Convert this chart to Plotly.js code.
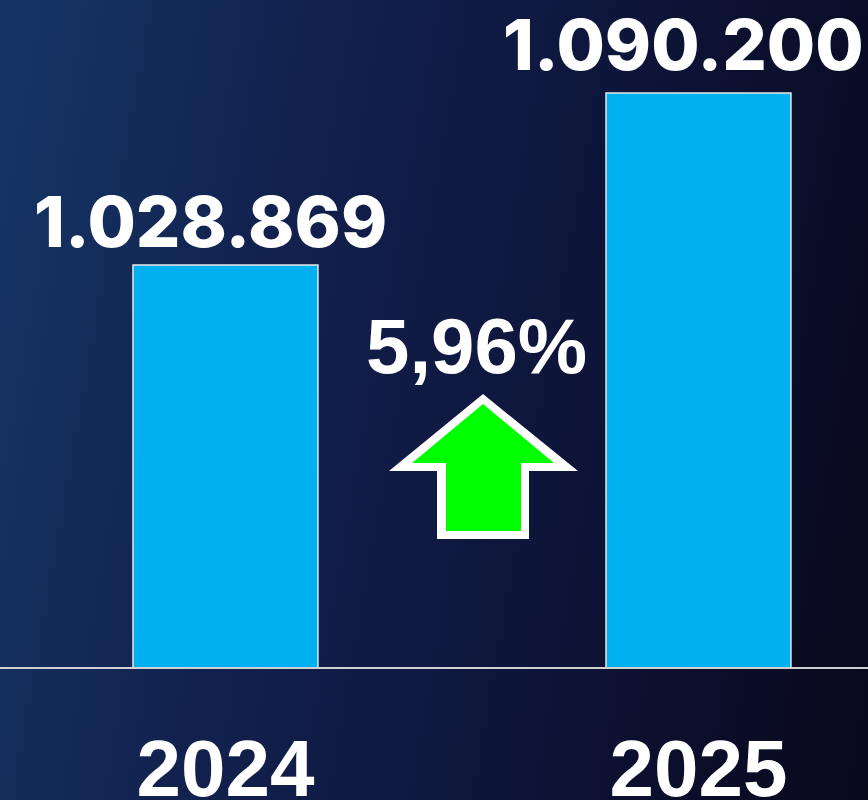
<!DOCTYPE html>
<html>
<head>
<meta charset="utf-8">
<script src="https://cdn.plot.ly/plotly-3.0.1.min.js"></script>
<style>
html,body{margin:0;padding:0;width:868px;height:800px;overflow:hidden;}
body{background:linear-gradient(100deg,#153666 0%,#12224f 30%,#0f1840 55%,#0b0d28 85%,#09091c 100%);}
#chart{width:868px;height:800px;}
</style>
</head>
<body>
<div id="chart"></div>
<script>
const years = ['2024', '2025'];
const visitors = [1028869, 1090200];
const valueLabels = ['1.028.869', '1.090.200'];
const changeLabel = '5,96%';

const yBase = 885526;
const yTop = 1123358;

const trace = {
  type: 'bar',
  x: years,
  y: visitors,
  width: 0.391,
  marker: {color: '#00b0f0', line: {color: '#e8e8e8', width: 1.5}},
  hoverinfo: 'x+y'
};

const annotations = years.map((yr, i) => ({
  x: i, y: visitors[i], xref: 'x', yref: 'y',
  text: valueLabels[i], showarrow: false,
  xanchor: 'center', yanchor: 'bottom', xshift: -15, yshift: i === 0 ? -1 : 4,
  font: {family: 'Inter, Roboto, sans-serif', size: 70, color: '#ffffff', weight: 800}
}));

const H = 667, W = 868;
const px = v => v / W, py = v => (H - v) / H;
function arrowPath(tipY, wingX1, wingX2, wingY, shaftX1, shaftX2, bottomY, tipX) {
  return 'M ' + px(tipX) + ' ' + py(tipY) +
    ' L ' + px(wingX2) + ' ' + py(wingY) +
    ' L ' + px(shaftX2) + ' ' + py(wingY) +
    ' L ' + px(shaftX2) + ' ' + py(bottomY) +
    ' L ' + px(shaftX1) + ' ' + py(bottomY) +
    ' L ' + px(shaftX1) + ' ' + py(wingY) +
    ' L ' + px(wingX1) + ' ' + py(wingY) + ' Z';
}

annotations.push({
  x: px(476.5), y: py(375), xref: 'paper', yref: 'paper',
  text: changeLabel, showarrow: false, xanchor: 'center', yanchor: 'bottom', yshift: -17,
  font: {family: 'Liberation Sans, Arial, sans-serif', size: 78, color: '#ffffff', weight: 700}
});

const layout = {
  width: 868, height: 800,
  margin: {l: 0, r: 0, t: 0, b: 133, pad: 0},
  paper_bgcolor: 'rgba(0,0,0,0)',
  plot_bgcolor: 'rgba(0,0,0,0)',
  showlegend: false,
  xaxis: {
    type: 'category', range: [-0.4767, 1.3584],
    showline: true, linecolor: '#d0d0d0', linewidth: 2,
    showgrid: false, zeroline: false, ticks: '',
    tickfont: {family: 'Liberation Sans, Arial, sans-serif', size: 80, color: '#ffffff', weight: 700},
    ticklabelstandoff: 31, fixedrange: true
  },
  yaxis: {
    range: [yBase, yTop], visible: false, showgrid: false, zeroline: false, fixedrange: true
  },
  annotations: annotations,
  shapes: [
    {type: 'path', xref: 'paper', yref: 'paper', layer: 'above',
     path: arrowPath(394, 389, 578, 471, 437, 529, 539, 483),
     fillcolor: '#ffffff', line: {width: 0}},
    {type: 'path', xref: 'paper', yref: 'paper', layer: 'above',
     path: arrowPath(404, 412, 554, 463, 446, 521, 531, 483),
     fillcolor: '#00ff00', line: {width: 0}}
  ]
};

Plotly.newPlot('chart', [trace], layout, {displayModeBar: false, staticPlot: true});
</script>
</body>
</html>
